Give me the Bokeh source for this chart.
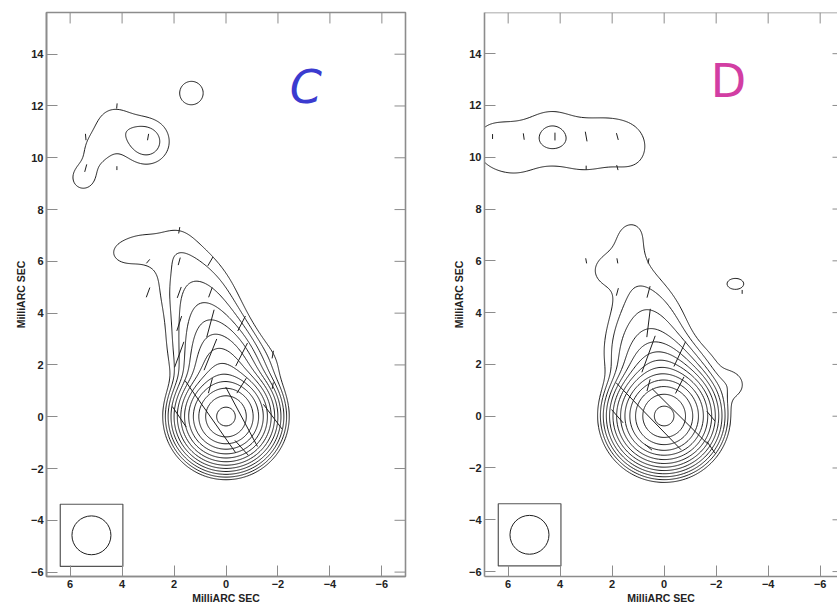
import numpy as np
from bokeh.plotting import figure
from bokeh.layouts import row
from bokeh.models import Range1d, FixedTicker, Label
from bokeh.embed import file_html
from bokeh.resources import INLINE

# ---------------- data ----------------
x_ticks = [6, 4, 2, 0, -2, -4, -6]
y_ticks = [-6, -4, -2, 0, 2, 4, 6, 8, 10, 12, 14]
axis_title = "MilliARC SEC"
panel_names = ["C", "D"]
panel_colors = ["#3b3bcf", "#d23ea3"]
name_x = [-3.07, -2.47]
name_y = [12.74, 12.95]

# contour levels (lowest level x 2^k)
levels = [1, 2, 4, 8, 16, 32, 64, 128, 256, 512, 1024, 2048, 4096]

# restoring beam (mas) and its box
beam_fwhm = 1.5
beam_cx = 5.18
beam_cy = -4.58
box_x0, box_x1 = 6.38, 3.97
box_y0, box_y1 = -5.78, -3.38

# ---- panel C brightness components: x, y (mas), peak, sigma_x, sigma_y ----
c_core = [0.0, 0.0, 4900, 0.59, 0.59]
cj_x = [0.05, 0.1, 0.2, 0.3, 0.5, 0.65, 0.85, 1.05, 1.25, 1.4, 1.5, 1.7, 1.9]
cj_y = [1.0, 1.5, 2.0, 2.5, 3.0, 3.5, 4.0, 4.5, 5.0, 5.5, 6.0, 6.5, 7.0]
cj_a = [100, 60, 40, 20, 10, 5.2, 2.9, 2.0, 1.2, 0.85, 0.6, 0.5, 0.55]
cj_sx = [0.6, 0.6, 0.6, 0.6, 0.62, 0.65, 0.7, 0.75, 0.85, 0.85, 0.8, 0.7, 0.6]
cj_sy = [0.6, 0.6, 0.6, 0.6, 0.62, 0.65, 0.7, 0.7, 0.7, 0.7, 0.6, 0.6, 0.6]
cf_x = [3.3, 4.0, -1.4, 1.7, 3.05, 4.3, 5.0, 5.5, 1.33]
cf_y = [6.5, 6.3, 2.0, 2.6, 10.62, 11.3, 10.3, 9.2, 12.5]
cf_a = [1.3, 0.7, 1.0, 0.8, 2.8, 1.4, 1.1, 1.3, 1.4]
cf_sx = [0.75, 0.4, 0.7, 0.6, 0.6, 0.65, 0.55, 0.5, 0.55]
cf_sy = [0.6, 0.32, 0.7, 0.9, 0.6, 0.65, 0.55, 0.5, 0.55]

# ---- panel D brightness components ----
d_core = [0.0, 0.0, 4900, 0.62, 0.62]
dj_x = [0.05, 0.15, 0.3, 0.45, 0.55, 0.6, 0.65, 0.75, 0.95, 1.1, 1.3, 1.45, 1.3, 1.2]
dj_y = [1.0, 1.5, 2.0, 2.5, 3.0, 3.5, 4.0, 4.5, 5.0, 5.5, 6.0, 6.5, 7.0, 7.4]
dj_a = [100, 40, 12, 5, 3, 1.9, 1.25, 0.9, 0.6, 0.45, 0.42, 0.45, 0.5, 0.42]
dj_sx = [0.6, 0.6, 0.65, 0.7, 0.75, 0.8, 0.8, 0.8, 0.8, 0.75, 0.75, 0.75, 0.7, 0.6]
dj_sy = [0.6, 0.6, 0.6, 0.6, 0.6, 0.6, 0.6, 0.6, 0.6, 0.6, 0.6, 0.6, 0.6, 0.5]
df_x = [2.3, -1.5, -2.6, -2.74, 1.7, 6.8, 5.6, 4.4, 3.2, 2.0, 1.1, 4.3]
df_y = [5.6, 1.9, 1.2, 5.11, 2.2, 10.55, 10.2, 10.95, 10.35, 10.7, 10.35, 10.8]
df_a = [1.0, 1.0, 1.4, 1.2, 1.0, 1.0, 1.0, 1.0, 1.0, 1.0, 0.85, 1.0]
df_sx = [0.5, 0.7, 0.45, 0.53, 0.6, 0.8, 0.8, 0.8, 0.8, 0.8, 0.6, 0.4]
df_sy = [0.5, 0.7, 0.45, 0.35, 0.9, 1.0, 1.0, 1.0, 1.0, 1.0, 0.8, 0.4]

# polarization vectors: centre x, y (mas), length (mas), EVPA (deg, east of north)
cv_x = [4.2, 5.4, 3.0, 5.4, 4.2, 1.8, 3.0, 1.8, 0.6, 3.0, 1.8, 0.6, 1.8, 0.6, -0.6, 1.8, 0.6, -0.6,
        -1.8, 0.6, -0.6, -1.8, 1.8, 0.6, -0.6, -1.8, -0.6]
cv_y = [12.0, 10.8, 10.8, 9.6, 9.6, 7.2, 6.0, 6.0, 6.0, 4.8, 4.8, 4.8, 3.6, 3.6, 3.6, 2.4, 2.4, 2.4,
        2.4, 1.2, 1.2, 1.2, 0.0, 0.0, 0.0, 0.0, -1.2]
cv_len = [0.2, 0.25, 0.25, 0.3, 0.15, 0.25, 0.2, 0.3, 0.4, 0.4, 0.45, 0.4, 0.6, 1.1, 0.65, 1.05, 1.3, 1.0,
          0.3, 0.6, 0.68, 0.25, 0.95, 3.4, 2.6, 1.2, 0.77]
cv_evpa = [-5, 5, -10, -15, 0, -10, -40, -15, -30, -20, -20, -20, -18, -15, -27, -20, -22, -27,
           -10, -15, -32, -10, 34, 35, 28, 37, 42]

dv_x = [6.6, 5.4, 4.2, 3.0, 1.8, 3.0, 1.8, 3.0, 1.8, 0.6, -3.0, 1.8, 0.6, 0.6, 0.6, -0.6, 0.6, -0.6,
        1.8, 0.6, -0.6, -1.8, -1.8, 0.6]
dv_y = [10.8, 10.8, 10.8, 10.8, 10.8, 9.6, 9.6, 6.0, 6.0, 6.0, 4.8, 4.8, 4.8, 3.6, 2.4, 2.4, 1.2, 1.2,
        0.0, 0.0, 0.0, 0.0, -1.2, -1.2]
dv_len = [0.19, 0.25, 0.3, 0.38, 0.27, 0.15, 0.2, 0.2, 0.2, 0.2, 0.15, 0.3, 0.46, 1.1, 1.5, 1.06, 0.47, 0.72,
          0.68, 3.6, 3.0, 0.5, 0.55, 0.35]
dv_evpa = [0, 8, 0, 10, 15, 0, 15, 10, 10, -10, 0, -15, -15, -7, -20, -25, -15, -27,
           41, 44, 45, 40, 35, 50]

# ---------------- helpers ----------------
gx = np.arange(-8.0, 9.0, 0.04)
gy = np.arange(-7.5, 17.0, 0.04)
GX, GY = np.meshgrid(gx, gy)
PX_PER_MAS = 26.0


def brightness(core, groups):
    xs, ys, amps, sxs, sys_ = [core[0]], [core[1]], [core[2]], [core[3]], [core[4]]
    for g in groups:
        xs += g[0]
        ys += g[1]
        amps += g[2]
        sxs += g[3]
        sys_ += g[4]
    z = np.zeros_like(GX)
    for x0, y0, a, sx, sy in zip(xs, ys, amps, sxs, sys_):
        z += a * np.exp(-((GX - x0) ** 2) / (2 * sx * sx) - ((GY - y0) ** 2) / (2 * sy * sy))
    return z


FRAME = "#8c8c8c"
FONT = "Liberation Sans"


def style_axis(ax, ticks):
    ax.ticker = FixedTicker(ticks=ticks)
    ax.minor_tick_line_color = None
    ax.major_tick_in = 11
    ax.major_tick_out = 0
    ax.major_tick_line_color = FRAME
    ax.major_tick_line_width = 1
    ax.axis_line_color = FRAME
    ax.axis_line_width = 1.6
    ax.major_label_text_font = FONT
    ax.major_label_text_font_style = "bold"
    ax.major_label_text_font_size = "11px"
    ax.major_label_text_color = "#222222"
    ax.major_label_standoff = 3
    ax.axis_label = axis_title
    ax.axis_label_text_font = FONT
    ax.axis_label_text_font_style = "bold"
    ax.axis_label_text_font_size = "10.5px"
    ax.axis_label_text_color = "#222222"
    ax.axis_label_standoff = 1


def make_panel(idx, width, x_end, y0, y1, bl, bt, bb, br, right_line, right_tick_px):
    p = figure(width=width, height=606, x_range=Range1d(6.91, x_end), y_range=Range1d(y0, y1),
               output_backend="svg", toolbar_location=None,
               min_border_left=bl, min_border_top=bt, min_border_bottom=bb, min_border_right=br)
    p.grid.visible = False
    p.outline_line_color = FRAME if right_line else None
    p.outline_line_width = 1.6
    p.background_fill_color = "white"
    p.border_fill_color = "white"
    style_axis(p.xaxis[0], x_ticks)
    style_axis(p.yaxis[0], y_ticks)

    # inward ticks on the top and right edges of the frame
    tl = 11.0 / PX_PER_MAS
    rl = right_tick_px / PX_PER_MAS
    p.segment(x_ticks, [y1] * len(x_ticks), x_ticks, [y1 - tl] * len(x_ticks),
              line_color=FRAME, line_width=1)
    p.segment([x_end] * len(y_ticks), y_ticks, [x_end + rl] * len(y_ticks), y_ticks,
              line_color=FRAME, line_width=1)
    if not right_line:
        p.segment([6.91], [y1], [x_end], [y1], line_color=FRAME, line_width=1.6)

    if idx == 0:
        z = brightness(c_core, [(cj_x, cj_y, cj_a, cj_sx, cj_sy), (cf_x, cf_y, cf_a, cf_sx, cf_sy)])
        vx, vy, vl, ve = cv_x, cv_y, cv_len, cv_evpa
    else:
        z = brightness(d_core, [(dj_x, dj_y, dj_a, dj_sx, dj_sy), (df_x, df_y, df_a, df_sx, df_sy)])
        vx, vy, vl, ve = dv_x, dv_y, dv_len, dv_evpa

    p.contour(gx, gy, z, levels, line_color="#1e1e1e", line_width=1.0)

    th = np.radians(np.array(ve, dtype=float))
    hl = 0.5 * np.array(vl, dtype=float)
    vx = np.array(vx, dtype=float)
    vy = np.array(vy, dtype=float)
    p.segment(vx - hl * np.sin(th), vy - hl * np.cos(th), vx + hl * np.sin(th), vy + hl * np.cos(th),
              line_color="#1e1e1e", line_width=1.0)

    # beam box and beam
    p.quad(left=[box_x0], right=[box_x1], bottom=[box_y0], top=[box_y1],
           fill_color=None, line_color="#555555", line_width=1.2)
    p.ellipse(x=[beam_cx], y=[beam_cy], width=[beam_fwhm], height=[beam_fwhm],
              fill_color=None, line_color="#1e1e1e", line_width=1.0)

    p.add_layout(Label(x=name_x[idx], y=name_y[idx], text=panel_names[idx],
                       text_color=panel_colors[idx], text_font="DejaVu Sans",
                       text_font_style="italic" if idx == 0 else "normal",
                       text_font_size="46px", text_align="center", text_baseline="middle"))
    return p


pc = make_panel(0, 420, -6.91, -6.17, 15.61, 46, 9, 30, 15, True, 11)
pd = make_panel(1, 417, 6.91 - 353 / 26.0, -6.19, 15.59, 64, 12, 27, 0, False, 5)

layout = row(pc, pd)
open("out.html", "w").write(file_html(layout, INLINE))
